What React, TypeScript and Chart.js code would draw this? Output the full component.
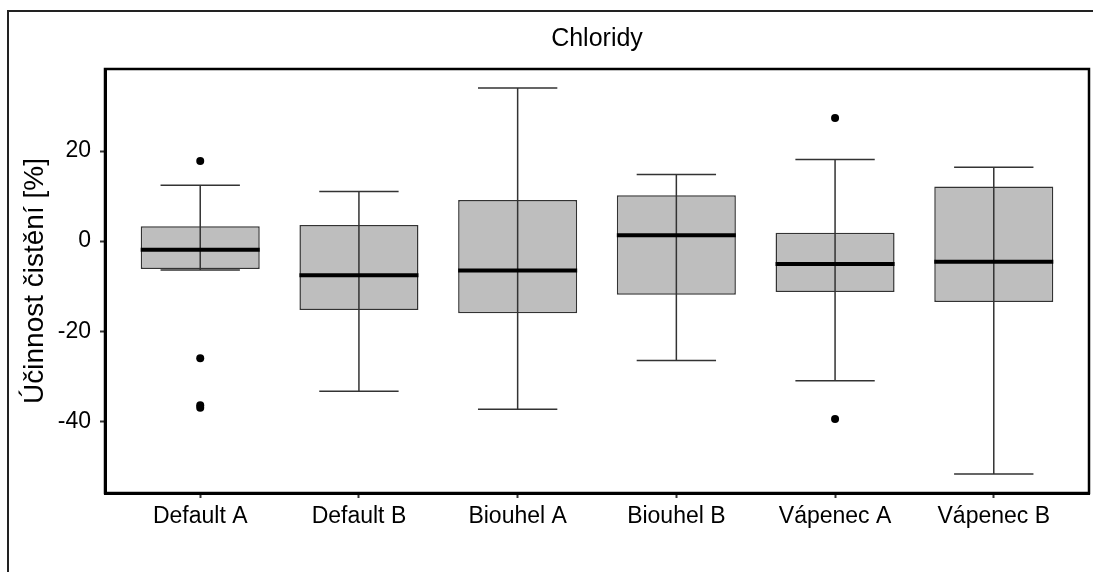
import React, { useEffect, useRef } from 'react';
import { Chart, registerables } from 'chart.js';

Chart.register(...registerables);

const FONT = "'Liberation Sans', Arial, sans-serif";

const categories = ['Default A', 'Default B', 'Biouhel A', 'Biouhel B', 'Vápenec A', 'Vápenec B'];
const whiskerLow = [-6.4, -33.3, -37.3, -26.5, -31.0, -51.7];
const q1 = [-6.2, -15.3, -16.0, -11.9, -11.3, -13.5];
const median = [-1.9, -7.6, -6.5, 1.3, -5.1, -4.6];
const q3 = [3.3, 3.6, 9.1, 10.2, 1.85, 12.1];
const whiskerHigh = [12.4, 11.0, 34.0, 14.8, 18.1, 16.4];
const outlierCategory = [1, 1, 1, 1, 5, 5];
const outlierValue = [17.8, -26.0, -36.4, -37.0, 27.3, -39.5];
const yTicks = [-40, -20, 0, 20];
const yMin = -55.9;
const yMax = 38.2;

const boxPlugin = {
  id: 'boxWhiskers',
  afterDatasetsDraw(chart: any) {
    const { ctx, scales } = chart;
    const x = scales.x;
    const y = scales.y;
    const unit = x.getPixelForValue(2) - x.getPixelForValue(1);
    ctx.save();
    categories.forEach((_, i) => {
      const cx = x.getPixelForValue(i + 1);
      const capHalf = unit * 0.25;
      const boxHalf = unit * 0.375;
      const yl = y.getPixelForValue(whiskerLow[i]);
      const yh = y.getPixelForValue(whiskerHigh[i]);
      ctx.strokeStyle = '#333';
      ctx.lineWidth = 1.5;
      ctx.beginPath();
      ctx.moveTo(cx, yl);
      ctx.lineTo(cx, yh);
      ctx.moveTo(cx - capHalf, yl);
      ctx.lineTo(cx + capHalf, yl);
      ctx.moveTo(cx - capHalf, yh);
      ctx.lineTo(cx + capHalf, yh);
      ctx.stroke();
      const ym = y.getPixelForValue(median[i]);
      ctx.strokeStyle = '#000';
      ctx.lineWidth = 4;
      ctx.beginPath();
      ctx.moveTo(cx - boxHalf, ym);
      ctx.lineTo(cx + boxHalf, ym);
      ctx.stroke();
    });
    ctx.restore();
  },
};

const framePlugin = {
  id: 'frames',
  beforeDraw(chart: any) {
    const { ctx, width, height } = chart;
    ctx.save();
    ctx.fillStyle = '#fff';
    ctx.fillRect(0, 0, width, height);
    ctx.restore();
  },
  afterDraw(chart: any) {
    const { ctx, chartArea, width, height } = chart;
    ctx.save();
    ctx.strokeStyle = '#000';
    ctx.lineWidth = 2.5;
    ctx.strokeRect(chartArea.left, chartArea.top, chartArea.right - chartArea.left, chartArea.bottom - chartArea.top);
    ctx.strokeStyle = '#222';
    ctx.lineWidth = 2;
    ctx.beginPath();
    ctx.moveTo(8, height);
    ctx.lineTo(8, 11);
    ctx.lineTo(width, 11);
    ctx.stroke();
    ctx.restore();
  },
};

export default function App() {
  const ref = useRef<HTMLCanvasElement | null>(null);

  useEffect(() => {
    if (!ref.current) return;
    const boxData = categories.map((_, i) => ({ x: i + 1, y: [q1[i], q3[i]] }));
    const outliers = outlierValue.map((v, i) => ({ x: outlierCategory[i], y: v }));
    const chart = new Chart(ref.current, {
      type: 'bar',
      data: {
        datasets: [
          {
            type: 'bar',
            data: boxData as any,
            backgroundColor: '#bebebe',
            borderColor: '#333',
            borderWidth: 1.5,
            borderSkipped: false,
            barPercentage: 0.75,
            categoryPercentage: 1,
          } as any,
          {
            type: 'scatter',
            data: outliers,
            pointRadius: 4,
            pointBackgroundColor: '#000',
            pointBorderWidth: 0,
            showLine: false,
          } as any,
        ],
      },
      options: {
        animation: false,
        responsive: false,
        maintainAspectRatio: false,
        layout: { padding: { left: 0, right: 2, top: 0, bottom: 0 } },
        plugins: {
          legend: { display: false },
          tooltip: { enabled: false },
          title: {
            display: true,
            text: 'Chloridy',
            fullSize: false,
            color: '#000',
            font: { family: FONT, size: 25, weight: 'normal' },
            padding: { top: 24, bottom: 15 },
          } as any,
        },
        scales: {
          x: {
            type: 'linear',
            min: 0.4,
            max: 6.6,
            offset: false,
            afterBuildTicks: (s: any) => {
              s.ticks = categories.map((_, i) => ({ value: i + 1 }));
            },
            afterFit: (s: any) => {
              s.height = 79;
            },
            ticks: {
              autoSkip: false,
              maxRotation: 0,
              padding: 5,
              color: '#000',
              font: { family: FONT, size: 23 },
              callback: (v: any) => categories[Math.round(Number(v)) - 1] ?? '',
            },
            grid: {
              offset: false,
              drawOnChartArea: false,
              drawTicks: true,
              tickLength: 5,
              tickColor: '#333',
              tickWidth: 2,
            },
            border: { display: true, color: '#000', width: 3 },
          } as any,
          y: {
            type: 'linear',
            min: yMin,
            max: yMax,
            afterBuildTicks: (s: any) => {
              s.ticks = yTicks.map((v) => ({ value: v }));
            },
            afterFit: (s: any) => {
              s.width = 105;
            },
            ticks: {
              padding: 9,
              color: '#000',
              font: { family: FONT, size: 23 },
            },
            grid: {
              drawOnChartArea: false,
              drawTicks: true,
              tickLength: 5,
              tickColor: '#333',
              tickWidth: 2,
            },
            border: { display: true, color: '#000', width: 3 },
            title: {
              display: true,
              text: 'Účinnost čistění [%]',
              color: '#000',
              font: { family: FONT, size: 28 },
              padding: { top: 18, bottom: 0 },
            },
          } as any,
        },
      },
      plugins: [boxPlugin, framePlugin],
    });
    return () => chart.destroy();
  }, []);

  return (
    <div style={{ position: 'absolute', left: 0, top: 0, width: 1093, height: 572 }}>
      <canvas ref={ref} width={1093} height={572} />
    </div>
  );
}
